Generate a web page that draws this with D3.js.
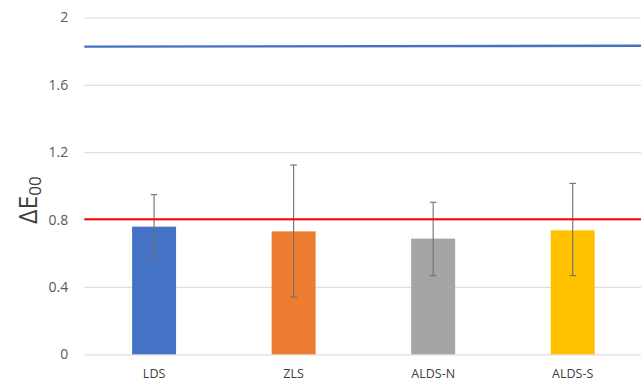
<!DOCTYPE html>
<html>
<head>
<meta charset="utf-8">
<script src="https://cdn.jsdelivr.net/npm/d3@7"></script>
<style>
  html, body { margin: 0; padding: 0; background: #fff; }
  svg { display: block; }
  text { font-family: "Open Sans", "Liberation Sans", sans-serif; }
</style>
</head>
<body>
<script>
// Mean colour difference per method with error ranges
const categories = ["LDS", "ZLS", "ALDS-N", "ALDS-S"];
const means      = [0.758, 0.730, 0.687, 0.736];
const errLow     = [0.570, 0.340, 0.467, 0.467];
const errHigh    = [0.948, 1.124, 0.903, 1.015];
const barColors  = ["#4472C4", "#ED7D31", "#A5A5A5", "#FFC000"];

// Reference thresholds drawn across the whole plot (start, end values)
const blueLine = [1.827, 1.832];
const redLine  = [0.802, 0.802];

const yTicks = [0, 0.4, 0.8, 1.2, 1.6, 2];

const width = 641, height = 392;
const margin = { top: 17.5, right: -1.5, bottom: 37.7, left: 84.3 };

const svg = d3.select("body").append("svg")
  .attr("width", width).attr("height", height);

const x = d3.scaleBand()
  .domain(categories)
  .range([margin.left, width - margin.right])
  .paddingInner(0.685).paddingOuter(0.3425);

const y = d3.scaleLinear()
  .domain([0, 2])
  .range([height - margin.bottom, margin.top]);

// Horizontal gridlines and tick labels
const yAxis = d3.axisLeft(y)
  .tickValues(yTicks)
  .tickFormat(d3.format("~g"))
  .tickSize(-(width - margin.left))
  .tickPadding(16);

const gy = svg.append("g")
  .attr("transform", `translate(${margin.left},0)`)
  .call(yAxis);
gy.select(".domain").remove();
gy.selectAll(".tick line").attr("stroke", "#dedede").attr("stroke-width", 1.2);
gy.selectAll(".tick text")
  .attr("fill", "#595959")
  .style("font-size", "14px");

// Bars
svg.append("g").selectAll("rect")
  .data(categories)
  .join("rect")
  .attr("x", d => x(d))
  .attr("width", x.bandwidth())
  .attr("y", (d, i) => y(means[i]))
  .attr("height", (d, i) => y(0) - y(means[i]))
  .attr("fill", (d, i) => barColors[i]);

// Error bars
const eb = svg.append("g").attr("stroke", "#6f6f6f").attr("stroke-width", 1.1);
categories.forEach((c, i) => {
  const cx = x(c) + x.bandwidth() / 2;
  eb.append("line").attr("x1", cx).attr("x2", cx)
    .attr("y1", y(errLow[i])).attr("y2", y(errHigh[i]));
  [errLow[i], errHigh[i]].forEach(v => {
    eb.append("line").attr("x1", cx - 3.3).attr("x2", cx + 3.3)
      .attr("y1", y(v)).attr("y2", y(v));
  });
});

// Threshold lines
const xl = d3.scaleLinear().domain([0, 1]).range([margin.left, width]);
const line = d3.line().x((d, i) => xl(i)).y(d => y(d));
svg.append("path").datum(blueLine)
  .attr("d", line).attr("fill", "none")
  .attr("stroke", "#4472C4").attr("stroke-width", 2.4);
svg.append("path").datum(redLine)
  .attr("d", line).attr("fill", "none")
  .attr("stroke", "#FF0000").attr("stroke-width", 2.2);

// Category labels
const xAxis = d3.axisBottom(x).tickSize(0).tickPadding(15);
const gx = svg.append("g")
  .attr("transform", `translate(0,${y(0)})`)
  .call(xAxis);
gx.select(".domain").remove();
gx.selectAll(".tick text")
  .attr("fill", "#404040")
  .style("font-size", "12.5px");

// Axis title: ΔE with subscript 00
const title = svg.append("text")
  .attr("transform", "translate(37,224) rotate(-90)")
  .attr("fill", "#404040")
  .style("font-size", "25px");
title.append("tspan").text("ΔE");
title.append("tspan").attr("dy", 4).style("font-size", "17px").text("00");
</script>
</body>
</html>
